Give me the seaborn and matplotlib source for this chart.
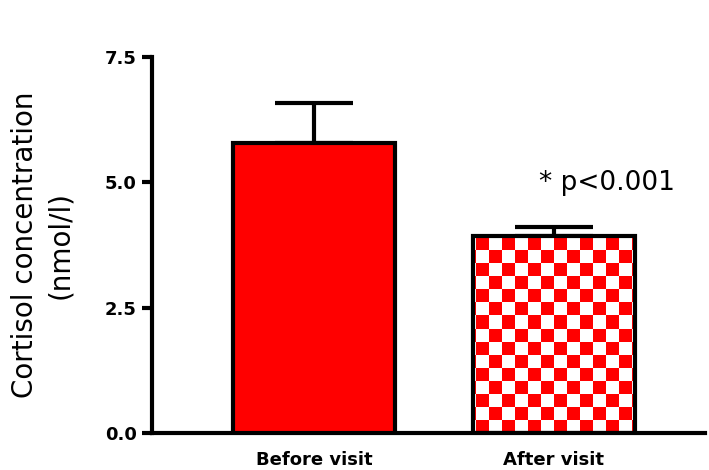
import numpy as np
import pandas as pd
import matplotlib
matplotlib.use("Agg")
import matplotlib.pyplot as plt
from matplotlib.colors import ListedColormap
import seaborn as sns

categories = ["Before visit", "After visit"]
means = [5.78, 3.93]
sem = [0.80, 0.18]
yticks = [0.0, 2.5, 5.0, 7.5]
annotation = "* p<0.001"

sns.set_style("white")
plt.rcParams['font.family'] = ['DejaVu Sans']
plt.rcParams['text.color'] = 'black'
plt.rcParams['axes.labelcolor'] = 'black'
plt.rcParams['xtick.color'] = 'black'
plt.rcParams['ytick.color'] = 'black'

fig = plt.figure(figsize=(7.09, 4.70), dpi=100)
ax = fig.add_axes([152/709, (470-433)/470, (705-152)/709, (433-57)/470])

df = pd.DataFrame({"cat": categories, "val": means})
sns.barplot(data=df, x="cat", y="val", ax=ax, color="red", width=0.675,
            errorbar=None, edgecolor="black", linewidth=3, saturation=1)

xs = np.arange(len(categories))
ax.errorbar(xs, means, yerr=[np.zeros(len(sem)), sem], fmt="none",
            ecolor="black", elinewidth=3, capsize=28, capthick=3, zorder=0.5)

# checkerboard fill for second bar
p = ax.patches[1]
x0, w, h = p.get_x(), p.get_width(), p.get_height()
sq_x = 13/240
sq_y = 13/50.13
nx = int(np.ceil(w/sq_x)) + 1
ny = int(np.ceil(h/sq_y)) + 1
board = (np.add.outer(np.arange(ny), np.arange(nx)) % 2)
p.set_facecolor("none")
p.set_zorder(3)
im = ax.imshow(board, cmap=ListedColormap(["white", "red"]), origin="lower",
               extent=[x0 - sq_x*0.8, x0 - sq_x*0.8 + nx*sq_x, 0, ny*sq_y],
               aspect="auto", interpolation="nearest", zorder=2)
im.set_clip_path(p)
ax.patches[0].set_zorder(3)

ax.set_xlim(-0.675, 1.63)
ax.set_ylim(0, 7.5)
ax.set_yticks(yticks)
ax.set_yticklabels([f"{t:.1f}" for t in yticks], fontsize=13, fontweight="bold")
ax.set_xticks(xs)
ax.set_xticklabels(categories, fontsize=13, fontweight="bold")
ax.tick_params(axis="y", direction="out", length=7, width=3, pad=4, left=True)
ax.tick_params(axis="x", length=0, pad=13)
for s in ["top", "right"]:
    ax.spines[s].set_visible(False)
for s in ["left", "bottom"]:
    ax.spines[s].set_linewidth(3)
    ax.spines[s].set_color("black")
ax.set_xlabel("")
ax.set_ylabel("Cortisol concentration\n(nmol/l)", fontsize=20, labelpad=22,
              linespacing=1.35)

ax.text(0.94, 4.985, annotation, fontsize=19, ha="left", va="center")

fig.savefig("out.png", dpi=100)
